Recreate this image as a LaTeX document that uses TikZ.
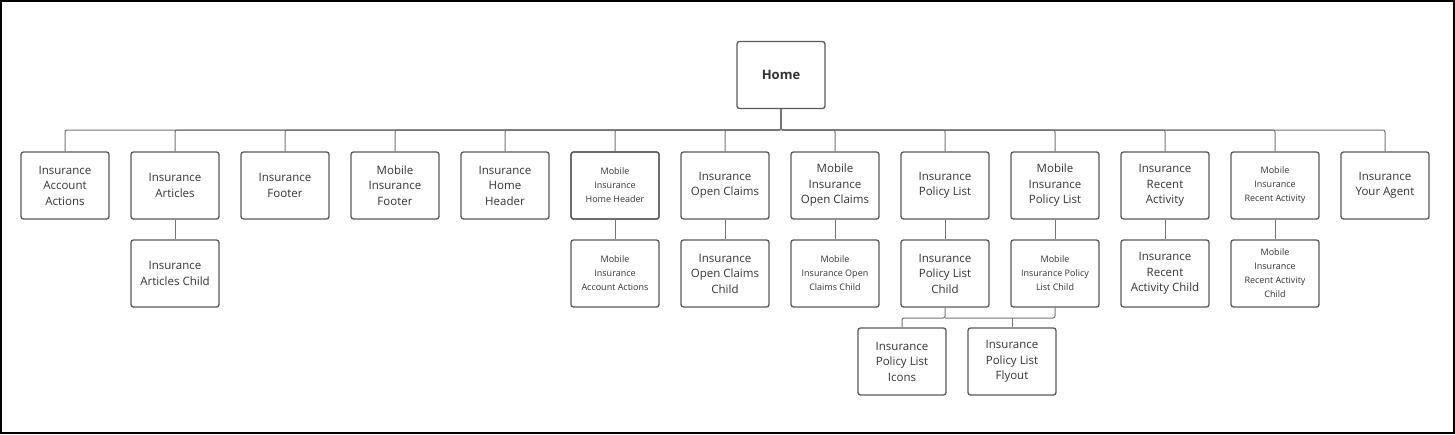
\documentclass[tikz,border=0pt]{standalone}
\usepackage{fontspec}
\setmainfont{Open Sans}
\begin{document}
\begin{tikzpicture}[x=1pt,y=-1pt,
 box/.style={draw=black!65,line width=1.3pt,rounded corners=2.5pt,minimum width=88pt,minimum height=67pt,align=center,inner sep=1pt,text=black!80,font=\fontsize{11.5}{15.5}\selectfont},
 sm/.style={box,font=\fontsize{9}{14}\selectfont},
 ln/.style={draw=black!55,line width=1pt,rounded corners=2pt}]
\draw[line width=2pt] (1,1) rectangle (1454,433);
\useasboundingbox (0,0) rectangle (1455,434);
\node[box,font=\fontsize{13}{16}\selectfont\bfseries] (home) at (781,75) {Home};
\foreach \n/\x/\t/\s in {
 a/65/{Insurance\\Account\\Actions}/box,
 b/175/{Insurance\\Articles}/box,
 c/285/{Insurance\\Footer}/box,
 d/395/{Mobile\\Insurance\\Footer}/box,
 e/505/{Insurance\\Home\\Header}/box,
 f/615/{Mobile\\Insurance\\Home Header}/sm,
 g/725/{Insurance\\Open Claims}/box,
 h/835/{Mobile\\Insurance\\Open Claims}/box,
 i/945/{Insurance\\Policy List}/box,
 j/1055/{Mobile\\Insurance\\Policy List}/box,
 k/1165/{Insurance\\Recent\\Activity}/box,
 l/1275/{Mobile\\Insurance\\Recent Activity}/sm,
 m/1385/{Insurance\\Your Agent}/box}{
 \node[\s] (\n) at (\x,185.5) {\t};
 \draw[ln] (home.south) |- (\x,130) -- (\n.north);
}
\node[sm,font=\fontsize{8.5}{13}\selectfont] at (615,185.5) {};
\foreach \p/\n/\x/\t/\s in {
 b/b2/175/{Insurance\\Articles Child}/box,
 f/f2/615/{Mobile\\Insurance\\Account Actions}/sm,
 g/g2/725/{Insurance\\Open Claims\\Child}/box,
 h/h2/835/{Mobile\\Insurance Open\\Claims Child}/sm,
 i/i2/945/{Insurance\\Policy List\\Child}/box,
 j/j2/1055/{Mobile\\Insurance Policy\\List Child}/sm,
 k/k2/1165/{Insurance\\Recent\\Activity Child}/box,
 l/l2/1275/{Mobile\\Insurance\\Recent Activity\\Child}/sm}{
 \node[\s] (\n) at (\x,273.5) {\t};
 \draw[ln] (\p.south) -- (\n.north);
}
\node[box] (n1) at (902,361.5) {Insurance\\Policy List\\Icons};
\node[box] (n2) at (1012,361.5) {Insurance\\Policy List\\Flyout};
\coordinate (bus) at (945,318);
\draw[ln] (i2.south) |- (902,318) -- (n1.north);
\draw[ln] (j2.south) |- (945,318);
\draw[ln] (1012,318) -- (n2.north);
\end{tikzpicture}
\end{document}
